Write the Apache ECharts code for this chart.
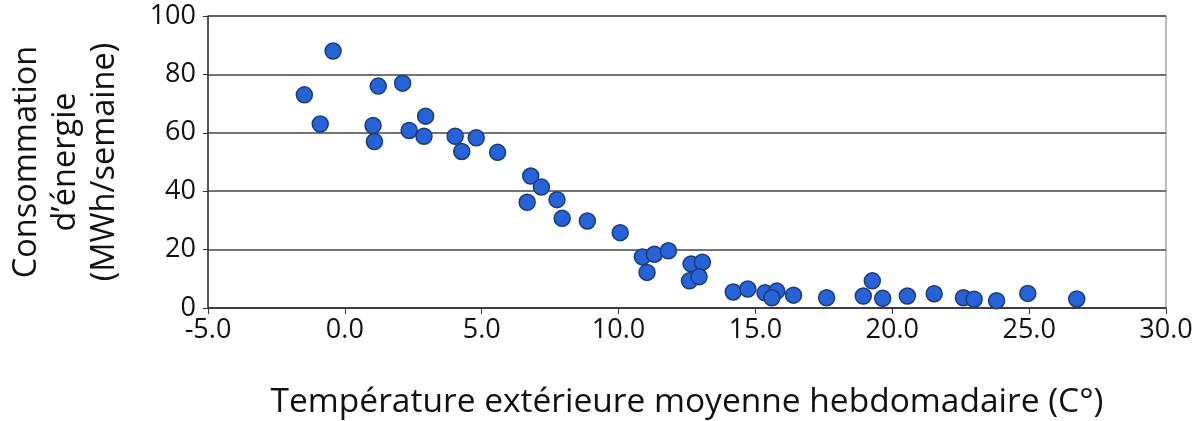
<!DOCTYPE html>
<html>
<head>
<meta charset="utf-8">
<script src="https://cdn.jsdelivr.net/npm/echarts@6/dist/echarts.min.js"></script>
<style>
  html, body { margin: 0; padding: 0; background: #fff; }
  #chart { width: 1198px; height: 421px; }
</style>
</head>
<body>
<div id="chart"></div>
<script>
// weekly mean outdoor temperature (°C)
const temps = [-1.48, -0.90, -0.43, 1.22, 1.03, 1.08, 2.11, 2.35, 2.95, 2.89,
  4.03, 4.27, 4.80, 5.58, 6.79, 6.66, 7.18, 7.75, 7.94, 8.86,
  10.06, 10.87, 11.04, 11.31, 11.82, 12.65, 13.06, 12.59, 12.94, 14.19,
  14.72, 15.35, 15.78, 15.60, 16.39, 17.60, 18.94, 19.27, 19.65, 20.55,
  21.53, 22.60, 22.99, 23.81, 24.95, 26.74];
// energy use (MWh / week)
const energy = [73.0, 63.0, 88.0, 76.0, 62.5, 57.0, 77.0, 60.8, 65.7, 58.8,
  58.8, 53.6, 58.3, 53.3, 45.2, 36.2, 41.4, 37.1, 30.7, 29.8,
  25.8, 17.5, 12.2, 18.4, 19.6, 15.1, 15.7, 9.3, 10.7, 5.5,
  6.5, 5.2, 5.8, 3.5, 4.4, 3.5, 4.1, 9.3, 3.3, 4.1,
  4.9, 3.5, 3.0, 2.5, 5.0, 3.1];
const yTicks = [0, 20, 40, 60, 80, 100];

const points = temps.map((t, i) => [t, energy[i]]);
const font = 'Open Sans';

const chart = echarts.init(document.getElementById('chart'));
chart.setOption({
  animation: false,
  grid: {
    left: 208, right: 32, top: 16, bottom: 113,
    outerBoundsMode: 'none',
    containLabel: false,
    show: true,
    borderColor: '#7a7a7a',
    borderWidth: 1
  },
  xAxis: {
    type: 'value',
    min: -5, max: 30, interval: 5,
    name: 'Température extérieure moyenne hebdomadaire (C°)',
    nameLocation: 'middle',
    nameGap: 77,
    nameTextStyle: { fontFamily: font, fontSize: 33.5, color: '#111' },
    axisLine: { show: true, onZero: false, lineStyle: { color: '#333', width: 1.5 } },
    axisTick: { show: true, length: 6, lineStyle: { color: '#333' } },
    axisLabel: {
      fontFamily: font, fontSize: 27, color: '#111', margin: 9,
      formatter: v => v.toFixed(1)
    },
    splitLine: { show: false }
  },
  yAxis: {
    type: 'value',
    min: yTicks[0], max: yTicks[yTicks.length - 1], interval: 20,
    name: 'Consommation\nd’énergie\n(MWh/semaine)',
    nameLocation: 'middle',
    nameRotate: 90,
    nameGap: 84,
    nameTextStyle: { fontFamily: font, fontSize: 32.5, color: '#111', lineHeight: 39 },
    axisLine: { show: true, onZero: false, lineStyle: { color: '#333', width: 1.5 } },
    axisTick: { show: true, length: 5, lineStyle: { color: '#333' } },
    axisLabel: { fontFamily: font, fontSize: 27, color: '#111', margin: 12 },
    splitLine: { show: true, lineStyle: { color: '#444', width: 1.5 } }
  },
  series: [{
    type: 'scatter',
    data: points,
    symbolSize: 16,
    itemStyle: { color: '#2663d8', borderColor: '#1d3b73', borderWidth: 1.5, opacity: 1 }
  }]
});
</script>
</body>
</html>
